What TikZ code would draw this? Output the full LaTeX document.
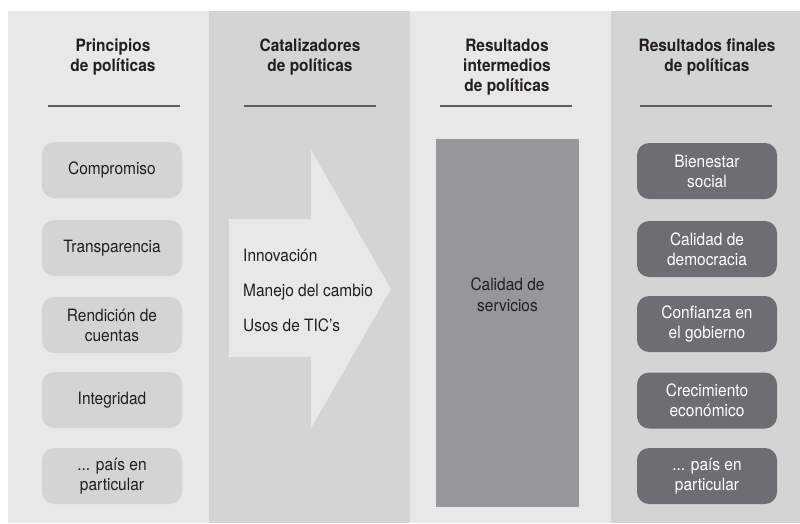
\documentclass[tikz,border=0pt]{standalone}
\usepackage{fontspec}
\setmainfont[FakeStretch=0.91]{TeX Gyre Heros}
\definecolor{bgA}{HTML}{E8E8E8}
\definecolor{bgB}{HTML}{D3D4D4}
\definecolor{midgray}{HTML}{96979A}
\definecolor{darkbox}{HTML}{6D6E71}
\definecolor{rulegray}{HTML}{5E5F61}
\definecolor{ink}{HTML}{231F20}
\tikzset{
  hdr/.style={font=\fontsize{17}{20}\selectfont\bfseries, text=ink, inner sep=0pt, anchor=base},
  rulel/.style={draw=rulegray, line width=1.3pt},
  lbox/.style={fill=bgB, rounded corners=12pt, minimum width=140pt, minimum height=56pt,
    align=center, font=\fontsize{17}{20}\selectfont, text=ink, inner sep=0pt},
  rbox/.style={fill=darkbox, rounded corners=12pt, minimum width=140pt, minimum height=56pt,
    align=center, font=\fontsize{17}{20}\selectfont, text=white, inner sep=0pt},
  atext/.style={font=\fontsize{17}{20}\selectfont, text=ink, inner sep=0pt, anchor=base west},
  ctext/.style={font=\fontsize{17}{21}\selectfont, text=ink, inner sep=0pt, align=center}
}
\begin{document}
\begin{tikzpicture}[x=1pt,y=-1pt]
\useasboundingbox (0,0) rectangle (800,523);
\fill[white] (0,0) rectangle (800,523);
% column backgrounds
\fill[bgA] (8,11) rectangle (209,523);
\fill[bgB] (209,11) rectangle (410,523);
\fill[bgA] (410,11) rectangle (611,523);
\fill[bgB] (611,11) rectangle (800,523);

% headers
\node[hdr] (h1a) at (113,51) {Principios};
\node[hdr] (h1b) at (113,71) {de políticas};
\node[hdr] (h2a) at (310,51) {Catalizadores};
\node[hdr] (h2b) at (310,71) {de políticas};
\node[hdr] (h3a) at (507,51) {Resultados};
\node[hdr] (h3b) at (507,71) {intermedios};
\node[hdr] (h3c) at (507,91) {de políticas};
\node[hdr] (h4a) at (707,51) {Resultados finales};
\node[hdr] (h4b) at (707,71) {de políticas};

% header rules
\coordinate (r1a) at (48,106);  \coordinate (r1b) at (180,106);
\coordinate (r2a) at (244,106); \coordinate (r2b) at (376,106);
\coordinate (r3a) at (440,106); \coordinate (r3b) at (572,106);
\coordinate (r4a) at (640,106); \coordinate (r4b) at (772,106);
\draw[rulel] (r1a) -- (r1b);
\draw[rulel] (r2a) -- (r2b);
\draw[rulel] (r3a) -- (r3b);
\draw[rulel] (r4a) -- (r4b);

% left column boxes
\node[lbox] (p1) at (112,170) {Compromiso};
\node[lbox] (p2) at (112,248) {Transparencia};
\node[lbox] (p3) at (112,325) {Rendición de\\cuentas};
\node[lbox] (p4) at (112,400) {Integridad};
\node[lbox] (p5) at (112,476) {... país en\\particular};

% arrow
\coordinate (a1) at (229,219);
\coordinate (a2) at (311,219);
\coordinate (a3) at (311,150);
\coordinate (a4) at (391,289);
\coordinate (a5) at (311,428);
\coordinate (a6) at (311,357);
\coordinate (a7) at (229,357);
\fill[bgA] (a1) -- (a2) -- (a3) -- (a4) -- (a5) -- (a6) -- (a7) -- cycle;
\node[atext] (c1) at (243,261) {Innovación};
\node[atext] (c2) at (243,296) {Manejo del cambio};
\node[atext] (c3) at (243,331) {Usos de TIC’s};

% intermediate results
\coordinate (s1) at (436,139);
\coordinate (s2) at (579,507);
\fill[midgray] (s1) rectangle (s2);
\node[ctext] (serv) at (507.5,295) {Calidad de\\servicios};

% right column boxes
\node[rbox] (f1) at (707,171) {Bienestar\\social};
\node[rbox] (f2) at (707,249) {Calidad de\\democracia};
\node[rbox] (f3) at (707,324) {Confianza en\\el gobierno};
\node[rbox] (f4) at (707,400.5) {Crecimiento\\económico};
\node[rbox] (f5) at (707,476) {... país en\\particular};
\end{tikzpicture}
\end{document}
